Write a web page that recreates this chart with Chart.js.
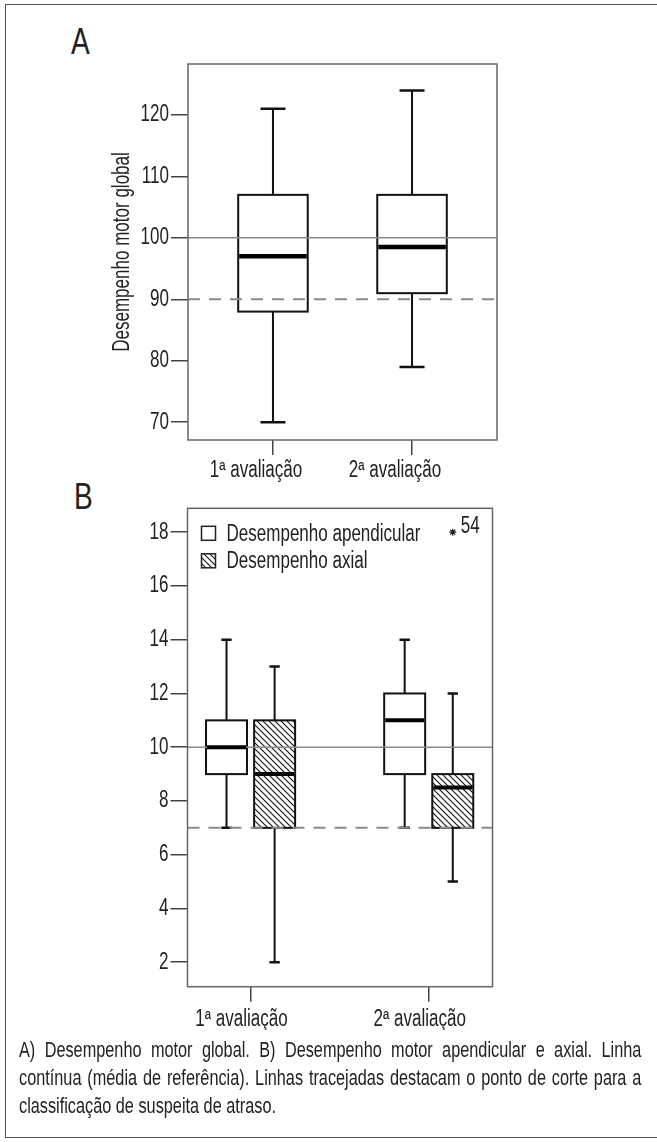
<!DOCTYPE html>
<html>
<head>
<meta charset="utf-8">
<script src="https://cdn.jsdelivr.net/npm/chart.js@4.4.1/dist/chart.umd.min.js"></script>
<style>
  body { margin: 0; background: #fff; }
  #page { position: relative; width: 657px; height: 1142px; overflow: hidden; font-family: 'Liberation Sans', Arial, sans-serif; color: #222; }
  #frame { position: absolute; left: 5px; top: 4px; width: 720px; height: 1132px; border-left: 1.5px solid #555; border-top: 1.5px solid #555; border-bottom: 1.5px solid #555; }
  .panel { position: absolute; font-size: 36px; line-height: 36px; transform: scaleX(0.78); transform-origin: left top; }
  canvas { position: absolute; left: 0; }
  #caption { position: absolute; left: 19px; top: 1036px; width: 841px; font-size: 22px; line-height: 28px; transform: scaleX(0.74); transform-origin: left top; }
  #caption div { text-align: justify; text-align-last: justify; }
  #caption div.last { text-align-last: left; }
</style>
</head>
<body>
<div id="page">
  <div id="frame"></div>
  <div class="panel" style="left:71px; top:24px;">A</div>
  <div class="panel" style="left:74px; top:479px;">B</div>
  <canvas id="chartA" width="657" height="500" style="top:0"></canvas>
  <canvas id="chartB" width="657" height="560" style="top:470px"></canvas>
  <div id="caption">
    <div>A) Desempenho motor global. B) Desempenho motor apendicular e axial. Linha</div>
    <div>contínua (média de referência). Linhas tracejadas destacam o ponto de corte para a</div>
    <div class="last">classificação de suspeita de atraso.</div>
  </div>
</div>
<script>
const FONT = "'Liberation Sans', Arial, sans-serif";

// the figure uses a condensed face that is not installed: squeeze canvas text instead
const SQUEEZE = 0.74;
const plainFillText = CanvasRenderingContext2D.prototype.fillText;
CanvasRenderingContext2D.prototype.fillText = function (text, x, y, maxWidth) {
    const w = this.measureText(text).width * SQUEEZE;
    return plainFillText.call(this, text, x, y, maxWidth === undefined ? w : Math.min(w, maxWidth));
};

// categories (x axis)
const categories = ['1ª avaliação', '2ª avaliação'];

// panel A: desempenho motor global
const globalMin = [70, 79];
const globalQ1 = [88, 91];
const globalMedian = [97, 98.5];
const globalQ3 = [107, 107];
const globalMax = [121, 124];
const ticksA = [70, 80, 90, 100, 110, 120];
const meanA = 100, cutoffA = 90;

// panel B: apendicular / axial
const apendMin = [7, 7];
const apendQ1 = [9, 9];
const apendMedian = [10, 11];
const apendQ3 = [11, 12];
const apendMax = [14, 14];
const axialMin = [2, 5];
const axialQ1 = [7, 7];
const axialMedian = [9, 8.5];
const axialQ3 = [11, 9];
const axialMax = [13, 12];
const outlierGroup = [1];      // 2ª avaliação, axial
const outlierValue = [18];
const outlierLabel = ['54'];
const ticksB = [2, 4, 6, 8, 10, 12, 14, 16, 18];
const meanB = 10, cutoffB = 7;
const legendLabels = ['Desempenho apendicular', 'Desempenho axial'];

// hatch pattern for axial boxes
function hatch () {
    const c = document.createElement('canvas');
    c.width = 6; c.height = 6;
    const g = c.getContext('2d');
    g.strokeStyle = '#111';
    g.lineWidth = 1.1;
    g.beginPath();
    g.moveTo(-1, -1); g.lineTo(7, 7);
    g.moveTo(-1, 5); g.lineTo(1, 7);
    g.moveTo(5, -1); g.lineTo(7, 1);
    g.stroke();
    return g.createPattern(c, 'repeat');
}
const hatchFill = hatch();

function boxSeries (min, q1, med, q3, max, shift, fill) {
    return categories.map((c, i) => ({ x: i + shift, min: min[i], q1: q1[i], med: med[i], q3: q3[i], max: max[i], fill }));
}

// draws boxplots, reference lines and plot frame through the chart scales
function boxPlugin (series, opt) {
    return {
        id: 'boxes',
        beforeDatasetsDraw (chart) {
            const { ctx, chartArea: ca, scales: { x, y } } = chart;
            ctx.save();
            // boxes and whiskers
            for (const b of series) {
                const cx = x.getPixelForValue(b.x);
                const hw = x.getPixelForValue(b.x + opt.boxWidth / 2) - cx;
                const cw = x.getPixelForValue(b.x + opt.capWidth / 2) - cx;
                const yMin = y.getPixelForValue(b.min), yMax = y.getPixelForValue(b.max);
                const yQ1 = y.getPixelForValue(b.q1), yQ3 = y.getPixelForValue(b.q3);
                ctx.strokeStyle = '#111';
                ctx.lineWidth = opt.line;
                ctx.beginPath();
                ctx.moveTo(cx, yMax); ctx.lineTo(cx, yQ3);
                ctx.moveTo(cx, yQ1); ctx.lineTo(cx, yMin);
                ctx.stroke();
                ctx.lineWidth = opt.line + 0.5;
                ctx.beginPath();
                ctx.moveTo(cx - cw, yMax); ctx.lineTo(cx + cw, yMax);
                ctx.moveTo(cx - cw, yMin); ctx.lineTo(cx + cw, yMin);
                ctx.stroke();
                ctx.fillStyle = b.fill;
                ctx.fillRect(cx - hw, yQ3, hw * 2, yQ1 - yQ3);
                ctx.lineWidth = opt.line;
                ctx.strokeRect(cx - hw, yQ3, hw * 2, yQ1 - yQ3);
            }
            // reference lines
            ctx.strokeStyle = '#8a8a8a';
            ctx.lineWidth = 1.5;
            ctx.beginPath();
            ctx.moveTo(ca.left, y.getPixelForValue(opt.mean));
            ctx.lineTo(ca.right, y.getPixelForValue(opt.mean));
            ctx.stroke();
            ctx.lineWidth = 2;
            ctx.setLineDash([12, 9]);
            ctx.beginPath();
            ctx.moveTo(ca.left, y.getPixelForValue(opt.cutoff));
            ctx.lineTo(ca.right, y.getPixelForValue(opt.cutoff));
            ctx.stroke();
            ctx.setLineDash([]);
            // medians
            ctx.strokeStyle = '#000';
            ctx.lineWidth = opt.median;
            for (const b of series) {
                const cx = x.getPixelForValue(b.x);
                const hw = x.getPixelForValue(b.x + opt.boxWidth / 2) - cx;
                const ym = y.getPixelForValue(b.med);
                ctx.beginPath();
                ctx.moveTo(cx - hw + 1, ym); ctx.lineTo(cx + hw - 1, ym);
                ctx.stroke();
            }
            ctx.restore();
        },
        afterDraw (chart) {
            const { ctx, chartArea: ca } = chart;
            ctx.save();
            ctx.strokeStyle = '#666';
            ctx.lineWidth = 1.5;
            ctx.strokeRect(ca.left, ca.top, ca.right - ca.left, ca.bottom - ca.top);
            if (opt.legend) {
                ctx.font = '23px ' + FONT;
                ctx.textBaseline = 'middle';
                opt.legend.forEach((item, i) => {
                    const yy = ca.top + 25 + i * 27.5;
                    ctx.fillStyle = item.fill;
                    ctx.fillRect(ca.left + 14, yy - 7, 14, 14);
                    ctx.strokeStyle = '#222';
                    ctx.lineWidth = 1.5;
                    ctx.strokeRect(ca.left + 14, yy - 7, 14, 14);
                    ctx.fillStyle = '#222';
                    ctx.fillText(item.label, ca.left + 39, yy + 1);
                });
            }
            ctx.restore();
        }
    };
}

function scales (o) {
    return {
        x: {
            type: 'linear',
            min: o.xMin, max: o.xMax,
            afterBuildTicks: s => { s.ticks = categories.map((c, i) => ({ value: i })); },
            afterFit: s => { s.height = o.xHeight; },
            border: { display: false },
            grid: { display: true, drawOnChartArea: false, drawTicks: true, tickLength: 15, color: '#444', lineWidth: 1.5 },
            ticks: { padding: o.xPad, labelOffset: o.xShift, maxRotation: 0, color: '#222', font: { family: FONT, size: 23 },
                     callback: (v, i) => categories[i] }
        },
        y: {
            min: o.yMin, max: o.yMax,
            afterBuildTicks: s => { s.ticks = o.ticks.map(v => ({ value: v })); },
            afterFit: s => { s.width = o.yWidth; },
            border: { display: false },
            grid: { display: true, drawOnChartArea: false, drawTicks: true, tickLength: 17, color: '#444', lineWidth: 1.5 },
            ticks: { padding: 2, color: '#222', font: { family: FONT, size: 23 } },
            title: o.title ? { display: true, text: o.title, color: '#222', font: { family: FONT, size: 23 }, padding: { top: 109, bottom: 0 } } : { display: false }
        }
    };
}

Chart.defaults.animation = false;

new Chart(document.getElementById('chartA'), {
    type: 'scatter',
    data: { datasets: [] },
    options: {
        responsive: false,
        layout: { padding: { top: 64, right: 160, left: 0, bottom: 0 } },
        plugins: { legend: { display: false }, tooltip: { enabled: false } },
        scales: scales({ xMin: -0.611, xMax: 1.611, yMin: 67.1, yMax: 128.3, ticks: ticksA,
                         xHeight: 60, yWidth: 188, xPad: 2, xShift: -17, title: 'Desempenho motor global' })
    },
    plugins: [boxPlugin(
        boxSeries(globalMin, globalQ1, globalMedian, globalQ3, globalMax, 0, '#fff'),
        { boxWidth: 0.5, capWidth: 0.18, line: 2, median: 4.5, mean: meanA, cutoff: cutoffA })]
});

const shiftB = 0.135;
new Chart(document.getElementById('chartB'), {
    type: 'scatter',
    data: {
        datasets: [{
            data: outlierGroup.map((g, i) => ({ x: g + shiftB, y: outlierValue[i] })),
            pointStyle: 'star', pointRadius: 3.5, borderColor: '#222', borderWidth: 1.2,
            backgroundColor: '#222'
        }]
    },
    options: {
        responsive: false,
        layout: { padding: { top: 38.3, right: 164.5, left: 0, bottom: 0 } },
        plugins: { legend: { display: false }, tooltip: { enabled: false } },
        scales: scales({ xMin: -0.354, xMax: 1.358, yMin: 1.09, yMax: 18.89, ticks: ticksB,
                         xHeight: 43.3, yWidth: 187.5, xPad: 4, xShift: -9 })
    },
    plugins: [boxPlugin(
        boxSeries(apendMin, apendQ1, apendMedian, apendQ3, apendMax, -shiftB, '#fff')
            .concat(boxSeries(axialMin, axialQ1, axialMedian, axialQ3, axialMax, shiftB, hatchFill)),
        { boxWidth: 0.23, capWidth: 0.058, line: 2, median: 4, mean: meanB, cutoff: cutoffB,
          legend: [{ label: legendLabels[0], fill: '#fff' }, { label: legendLabels[1], fill: hatchFill }] }),
    {
        id: 'outlierLabel',
        afterDatasetsDraw (chart) {
            const { ctx } = chart;
            const meta = chart.getDatasetMeta(0);
            ctx.save();
            ctx.font = '23px ' + FONT;
            ctx.fillStyle = '#222';
            ctx.textBaseline = 'alphabetic';
            meta.data.forEach((pt, i) => ctx.fillText(outlierLabel[i], pt.x + 8, pt.y + 1));
            ctx.restore();
        }
    }]
});
</script>
</body>
</html>
